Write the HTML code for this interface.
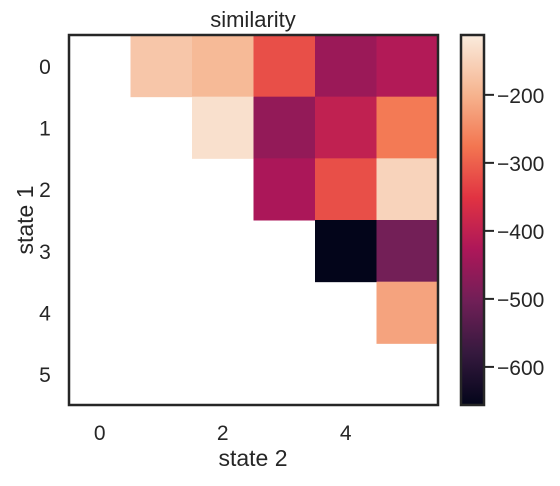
<!DOCTYPE html>
<html><head><meta charset="utf-8">
<style>
body{margin:0;background:#fff;font-family:"Liberation Sans","DejaVu Sans",sans-serif;}
svg text{font-family:"Liberation Sans","DejaVu Sans",sans-serif;fill:#262626;}
</style></head>
<body>
<svg id="chart" width="560" height="481" viewBox="0 0 560 481">
<defs>
<linearGradient id="cbgrad" x1="0" y1="1" x2="0" y2="0">
<stop offset="0" stop-color="#03051a"/><stop offset="0.14" stop-color="#35193e"/>
<stop offset="0.28" stop-color="#701f57"/><stop offset="0.42" stop-color="#ad1759"/>
<stop offset="0.56" stop-color="#e13342"/><stop offset="0.70" stop-color="#f37651"/>
<stop offset="0.84" stop-color="#f6b48f"/><stop offset="1" stop-color="#faebdd"/>
</linearGradient>
</defs>
<g id="cells"></g>
<rect x="69" y="35" width="369" height="370" fill="none" stroke="#262626" stroke-width="2.5"/>
<text x="253" y="27" text-anchor="middle" font-size="22">similarity</text>
<text x="253" y="466" text-anchor="middle" font-size="23">state 2</text>
<text x="33" y="220" text-anchor="middle" font-size="23" transform="rotate(-90 33 220)">state 1</text>
<g id="xticks"></g>
<g id="yticks"></g>
<rect x="461" y="35" width="23" height="370" fill="url(#cbgrad)" stroke="#262626" stroke-width="2.5"/>
<g id="cbticks"></g>
</svg>
<script>
const xLabels=[0,1,2,3,4,5];
const yLabels=[0,1,2,3,4,5];
const cells=[
 [0,1,-170],[0,2,-190],[0,3,-320],[0,4,-450],[0,5,-420],
 [1,2,-130],[1,3,-460],[1,4,-400],[1,5,-270],
 [2,3,-430],[2,4,-320],[2,5,-150],
 [3,4,-656],[3,5,-500],
 [4,5,-220]
];
const cbTicks=[-200,-300,-400,-500,-600];
const vmin=-656, vmax=-112;
const stops=[[0,[3,5,26]],[0.14,[53,25,62]],[0.28,[112,31,87]],[0.42,[173,23,89]],[0.56,[225,51,66]],[0.70,[243,118,81]],[0.84,[246,180,143]],[1,[250,235,221]]];
function cmap(v){let t=Math.max(0,Math.min(1,(v-vmin)/(vmax-vmin)));
 for(let i=1;i<stops.length;i++){if(t<=stops[i][0]){const a=stops[i-1],b=stops[i];const f=(t-a[0])/(b[0]-a[0]);
 const c=a[1].map((x,k)=>Math.round(x+(b[1][k]-x)*f));return `rgb(${c})`;}}return 'rgb(250,235,221)';}
const X0=69,Y0=35,W=369,H=370,cw=W/xLabels.length,ch=H/yLabels.length;
const xs=c=>X0+c*cw, ys=r=>Y0+r*ch;
const cbY=v=>Y0+(vmax-v)/(vmax-vmin)*H;
const NS='http://www.w3.org/2000/svg';
const g=document.getElementById('cells');
cells.forEach(([r,c,v])=>{const e=document.createElementNS(NS,'rect');
 e.setAttribute('x',xs(c));e.setAttribute('y',ys(r));e.setAttribute('width',cw+0.5);e.setAttribute('height',ch+0.5);e.setAttribute('fill',cmap(v));
 
 
 g.appendChild(e);});
const xt=document.getElementById('xticks');
xLabels.forEach((l,i)=>{if(i%2)return;const t=document.createElementNS(NS,'text');
 t.setAttribute('x',xs(i)+cw/2);t.setAttribute('y',440);t.setAttribute('text-anchor','middle');t.setAttribute('font-size','21');t.textContent=l;
 
 
 xt.appendChild(t);});
const yt=document.getElementById('yticks');
yLabels.forEach((l,i)=>{const t=document.createElementNS(NS,'text');
 t.setAttribute('x',45);t.setAttribute('y',ys(i)+ch/2+8);t.setAttribute('text-anchor','middle');t.setAttribute('font-size','21');t.textContent=l;
 
 
 yt.appendChild(t);});
const cb=document.getElementById('cbticks');
cbTicks.forEach(v=>{const y=cbY(v);const ln=document.createElementNS(NS,'line');
 ln.setAttribute('x1',484);ln.setAttribute('x2',494);ln.setAttribute('y1',y);ln.setAttribute('y2',y);ln.setAttribute('stroke','#262626');ln.setAttribute('stroke-width','2');
 
 
 cb.appendChild(ln);
 const t=document.createElementNS(NS,'text');t.setAttribute('x',497);t.setAttribute('y',y+8);t.setAttribute('font-size','21');t.textContent='\u2212'+Math.abs(v);
 
 
 cb.appendChild(t);});
</script>
</body></html>
